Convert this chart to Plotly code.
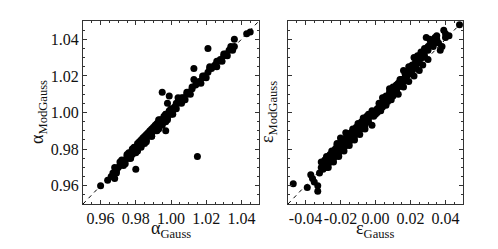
import plotly.graph_objects as go

# left panel: alpha
alpha_gauss = [
    0.960, 0.964, 0.966, 0.967, 0.968, 0.969, 0.970, 0.971, 0.972, 0.973,
    0.974, 0.975, 0.976, 0.977, 0.978, 0.978, 0.979, 0.980, 0.980, 0.981,
    0.982, 0.983, 0.983, 0.984, 0.985, 0.986, 0.986, 0.987, 0.988, 0.989,
    0.989, 0.990, 0.991, 0.992, 0.992, 0.993, 0.993, 0.994, 0.995, 0.995,
    0.996, 0.997, 0.997, 0.998, 0.998, 0.999, 0.999, 1.000, 1.000, 1.001,
    1.002, 1.003, 1.004, 1.004, 1.005, 1.006, 1.007, 1.008, 1.009, 1.010,
    1.011, 1.012, 1.013, 1.013, 1.014, 1.015, 1.015, 1.016, 1.017, 1.018,
    1.019, 1.020, 1.021, 1.021, 1.022, 1.023, 1.024, 1.025, 1.026, 1.027,
    1.028, 1.029, 1.030, 1.031, 1.032, 1.033, 1.034, 1.035, 1.036, 1.036,
    1.043, 1.045,
    0.972, 0.975, 0.978, 0.981, 0.984, 0.987, 0.990, 0.993, 0.996, 0.999,
    0.974, 0.977, 0.980, 0.983, 0.986, 0.989, 0.992, 0.995, 0.998, 1.001,
    1.003, 1.006, 1.009, 1.012, 1.018, 1.022, 1.026, 1.030, 1.034,
    0.968, 0.971, 0.976, 0.979, 0.982, 0.985, 0.988, 0.991, 0.994, 0.997,
    0.969, 0.973, 0.977, 0.981, 0.985, 0.989, 0.993, 0.997,
]
alpha_modgauss = [
    0.960, 0.963, 0.965, 0.967, 0.964, 0.968, 0.970, 0.971, 0.973, 0.972,
    0.974, 0.976, 0.975, 0.978, 0.977, 0.979, 0.980, 0.969, 0.981, 0.980,
    0.983, 0.982, 0.985, 0.984, 0.986, 0.985, 0.988, 0.987, 0.989, 0.988,
    0.991, 0.990, 0.992, 0.991, 0.994, 0.996, 0.993, 0.995, 0.994, 1.011,
    0.997, 0.990, 0.999, 0.997, 1.005, 1.009, 1.000, 1.002, 0.999, 1.001,
    1.003, 1.002, 1.005, 1.008, 1.006, 1.005, 1.008, 1.007, 1.010, 1.011,
    1.010, 1.013, 1.018, 1.024, 1.015, 0.976, 1.016, 1.017, 1.016, 1.019,
    1.020, 1.019, 1.022, 1.035, 1.025, 1.024, 1.025, 1.026, 1.025, 1.028,
    1.029, 1.028, 1.031, 1.032, 1.031, 1.034, 1.035, 1.034, 1.040, 1.036,
    1.043, 1.044,
    0.974, 0.977, 0.980, 0.983, 0.986, 0.989, 0.992, 0.995, 0.998, 1.001,
    0.972, 0.975, 0.978, 0.981, 0.984, 0.987, 0.990, 0.993, 0.996, 0.999,
    1.005, 1.008, 1.011, 1.014, 1.020, 1.024, 1.028, 1.032, 1.036,
    0.970, 0.973, 0.978, 0.981, 0.984, 0.987, 0.990, 0.993, 0.996, 0.999,
    0.967, 0.971, 0.975, 0.979, 0.983, 0.987, 0.991, 0.995,
]

# right panel: epsilon
eps_gauss = [
    -0.047, -0.039, -0.037, -0.036, -0.035, -0.033, -0.033, -0.032, -0.031, -0.030,
    -0.030, -0.029, -0.028, -0.028, -0.027, -0.027, -0.026, -0.026, -0.025, -0.025,
    -0.024, -0.024, -0.023, -0.023, -0.022, -0.022, -0.021, -0.021, -0.020, -0.020,
    -0.019, -0.019, -0.018, -0.018, -0.017, -0.017, -0.016, -0.016, -0.015, -0.015,
    -0.014, -0.014, -0.013, -0.012, -0.012, -0.011, -0.010, -0.010, -0.009, -0.008,
    -0.008, -0.007, -0.006, -0.006, -0.005, -0.004, -0.004, -0.003, -0.002, -0.002,
    -0.001, -0.001, 0.000, 0.000, 0.001, 0.001, 0.002, 0.002, 0.003, 0.003,
    0.004, 0.004, 0.005, 0.005, 0.006, 0.006, 0.007, 0.007, 0.008, 0.008,
    0.009, 0.009, 0.010, 0.010, 0.011, 0.011, 0.012, 0.012, 0.013, 0.013,
    0.014, 0.014, 0.015, 0.015, 0.016, 0.016, 0.017, 0.017, 0.018, 0.018,
    0.019, 0.019, 0.020, 0.020, 0.021, 0.021, 0.022, 0.022, 0.023, 0.023,
    0.024, 0.024, 0.025, 0.025, 0.026, 0.026, 0.027, 0.028, 0.028, 0.029,
    0.029, 0.030, 0.031, 0.032, 0.033, 0.034, 0.035, 0.036, 0.037, 0.038,
    0.039, 0.040, 0.042, 0.048,
    -0.029, -0.026, -0.023, -0.020, -0.017, -0.014, -0.011, -0.008, -0.005, -0.002,
    0.002, 0.005, 0.008, 0.011, 0.014, 0.017, 0.020, 0.023, 0.026, 0.030,
    -0.027, -0.024, -0.021, -0.018, -0.015, -0.012, 0.012, 0.015, 0.018, 0.021,
    0.024, 0.027, 0.031, 0.033, 0.035, 0.040,
    -0.031, -0.028, -0.025, -0.022, -0.019, -0.016, -0.013, -0.010, -0.007, -0.004,
    0.003, 0.006, 0.009, 0.013, 0.016, 0.019, 0.022, 0.025, 0.027, 0.030,
    -0.020, -0.017, -0.009, -0.006, 0.004, 0.010, 0.019, 0.024, 0.032, 0.034,
]
eps_modgauss = [
    -0.039, -0.041, -0.034, -0.036, -0.038, -0.043, -0.040, -0.033, -0.030, -0.029,
    -0.031, -0.027, -0.030, -0.026, -0.028, -0.025, -0.027, -0.024, -0.026, -0.023,
    -0.025, -0.022, -0.024, -0.021, -0.017, -0.023, -0.020, -0.022, -0.019, -0.021,
    -0.018, -0.020, -0.017, -0.019, -0.016, -0.018, -0.015, -0.017, -0.014, -0.016,
    -0.011, -0.015, -0.013, -0.011, -0.013, -0.010, -0.011, -0.009, -0.008, -0.009,
    -0.007, -0.006, -0.007, -0.005, -0.004, -0.005, -0.003, -0.002, -0.007, -0.001,
    -0.002, 0.000, 0.001, -0.001, 0.002, 0.000, 0.003, 0.001, 0.004, 0.002,
    0.005, 0.003, 0.007, 0.005, 0.007, 0.009, 0.006, 0.009, 0.013, 0.008,
    0.010, 0.012, 0.011, 0.009, 0.013, 0.011, 0.015, 0.012, 0.014, 0.016,
    0.015, 0.017, 0.016, 0.018, 0.023, 0.017, 0.019, 0.021, 0.020, 0.022,
    0.021, 0.023, 0.022, 0.025, 0.023, 0.026, 0.030, 0.024, 0.025, 0.028,
    0.027, 0.029, 0.028, 0.031, 0.030, 0.033, 0.032, 0.035, 0.031, 0.041,
    0.034, 0.036, 0.040, 0.038, 0.036, 0.040, 0.042, 0.038, 0.034, 0.036,
    0.045, 0.041, 0.042, 0.048,
    -0.026, -0.023, -0.020, -0.017, -0.014, -0.011, -0.008, -0.005, -0.002, 0.001,
    0.005, 0.008, 0.011, 0.014, 0.018, 0.021, 0.024, 0.027, 0.031, 0.034,
    -0.030, -0.027, -0.024, -0.021, -0.018, -0.015, 0.015, 0.018, 0.021, 0.024,
    0.027, 0.030, 0.037, 0.039, 0.040, 0.043,
    -0.027, -0.024, -0.021, -0.018, -0.015, -0.012, -0.009, -0.006, -0.003, -0.001,
    0.001, 0.004, 0.007, 0.010, 0.014, 0.017, 0.020, 0.023, 0.026, 0.029,
    -0.014, -0.011, -0.012, -0.009, 0.008, 0.014, 0.025, 0.031, 0.039, 0.041,
]

alpha_range = [0.95, 1.05]
eps_range = [-0.05, 0.05]
alpha_ticks = [0.96, 0.98, 1.00, 1.02, 1.04]
alpha_ticktext = ["0.96", "0.98", "1.00", "1.02", "1.04"]
eps_ticks = [-0.04, -0.02, 0.00, 0.02, 0.04]
eps_ticktext = ["-0.04", "-0.02", "0.00", "0.02", "0.04"]

FONT = "Liberation Serif, Times New Roman, serif"
TXT = "#111"
W, H = 498, 249
OFF = 8  # page body margin shifts the figure by 8px

fig = go.Figure()

# dashed 1:1 lines
fig.add_trace(go.Scatter(x=alpha_range, y=alpha_range, mode="lines",
                         line=dict(color="black", width=1, dash="4px,4px"),
                         xaxis="x", yaxis="y", showlegend=False))
fig.add_trace(go.Scatter(x=eps_range, y=eps_range, mode="lines",
                         line=dict(color="black", width=1, dash="4px,4px"),
                         xaxis="x2", yaxis="y2", showlegend=False))

fig.add_trace(go.Scatter(x=alpha_gauss, y=alpha_modgauss, mode="markers",
                         marker=dict(color="black", size=7),
                         xaxis="x", yaxis="y", showlegend=False))
fig.add_trace(go.Scatter(x=eps_gauss, y=eps_modgauss, mode="markers",
                         marker=dict(color="black", size=7),
                         xaxis="x2", yaxis="y2", showlegend=False))

axis_common = dict(
    showline=True, linecolor="#333", linewidth=1, mirror="ticks",
    ticks="inside", ticklen=4, tickcolor="#333", showgrid=False, zeroline=False,
    tickfont=dict(family=FONT, size=16, color=TXT), tickangle=0,
    automargin=False,
    minor=dict(ticks="inside", ticklen=2, tickcolor="#333", dtick=0.005),
)


def xdom(a, b):
    return [(a - OFF) / W, (b - OFF) / W]


def ydom(top, bottom):
    return [1 - (bottom - OFF) / H, 1 - (top - OFF) / H]


fig.update_layout(
    width=W, height=H,
    margin=dict(l=0, r=0, t=0, b=0),
    paper_bgcolor="white", plot_bgcolor="white",
    xaxis=dict(domain=xdom(83, 259), range=alpha_range, tickvals=alpha_ticks,
               ticktext=alpha_ticktext, anchor="y", **axis_common),
    yaxis=dict(domain=ydom(21, 204), range=alpha_range, tickvals=alpha_ticks,
               ticktext=alpha_ticktext, anchor="x", **axis_common),
    xaxis2=dict(domain=xdom(288, 463), range=eps_range, tickvals=eps_ticks,
                ticktext=eps_ticktext, anchor="y2", **axis_common),
    yaxis2=dict(domain=ydom(21, 204), range=eps_range, tickvals=eps_ticks,
                showticklabels=False, anchor="x2", **axis_common),
)

title_font = dict(family=FONT, size=18, color=TXT)
titles = [
    dict(text="α<sub>Gauss</sub>", x=171, y=229, textangle=0),
    dict(text="ε<sub>Gauss</sub>", x=375, y=229, textangle=0),
    dict(text="α<sub>ModGauss</sub>", x=38, y=112, textangle=-90),
    dict(text="ε<sub>ModGauss</sub>", x=268, y=112, textangle=-90),
]
for t in titles:
    fig.add_annotation(text=t["text"], xref="paper", yref="paper",
                       x=(t["x"] - OFF) / W, y=1 - (t["y"] - OFF) / H,
                       xanchor="center", yanchor="middle",
                       textangle=t["textangle"], showarrow=False,
                       font=title_font)

fig.write_html("out.html")
